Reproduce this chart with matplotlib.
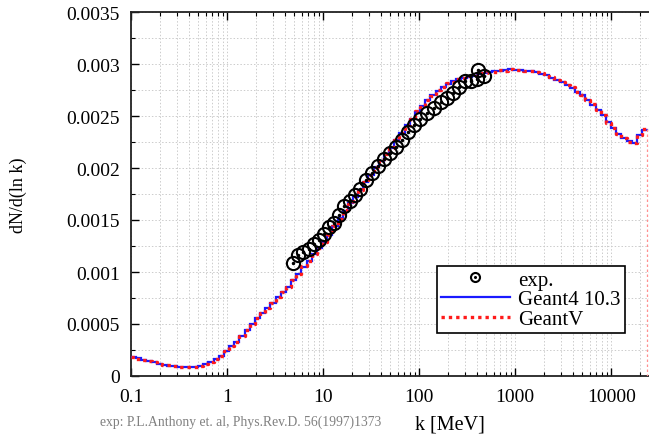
import numpy as np
import matplotlib
matplotlib.use("Agg")
import matplotlib.pyplot as plt
from matplotlib.ticker import LogLocator, MultipleLocator, FixedLocator, NullFormatter
from matplotlib.lines import Line2D

plt.rcParams['font.family'] = ['Liberation Serif', 'DejaVu Serif']

# ---- data ----
k_min_log, k_max_log, n_bins = -1.0, 4.375, 100

geant4 = [
    0.000178, 0.000170, 0.000158, 0.000143, 0.000131, 0.000119, 0.000109, 0.000100, 0.000093, 0.000088,
    0.000086, 0.000085, 0.000090, 0.000098, 0.000112, 0.000132, 0.000160, 0.000195, 0.000240, 0.000285,
    0.000325, 0.000382, 0.000440, 0.000500, 0.000555, 0.000605, 0.000655, 0.000705, 0.000755, 0.000805,
    0.000860, 0.000920, 0.000985, 0.001050, 0.001110, 0.001170, 0.001230, 0.001285, 0.001355, 0.001440,
    0.001515, 0.001590, 0.001660, 0.001725, 0.001790, 0.001865, 0.001935, 0.002005, 0.002070, 0.002130,
    0.002195, 0.002265, 0.002340, 0.002410, 0.002475, 0.002540, 0.002595, 0.002650, 0.002700, 0.002745,
    0.002780, 0.002810, 0.002835, 0.002855, 0.002865, 0.002875, 0.002885, 0.002900, 0.002915, 0.002920,
    0.002930, 0.002935, 0.002940, 0.002950, 0.002945, 0.002940, 0.002935, 0.002930, 0.002925, 0.002905,
    0.002890, 0.002870, 0.002850, 0.002825, 0.002800, 0.002770, 0.002735, 0.002700, 0.002655, 0.002610,
    0.002560, 0.002505, 0.002440, 0.002380, 0.002330, 0.002285, 0.002255, 0.002240, 0.002320, 0.002370,
]

geantv = [
    0.000180, 0.000168, 0.000157, 0.000145, 0.000130, 0.000120, 0.000108, 0.000101, 0.000092, 0.000089,
    0.000085, 0.000086, 0.000089, 0.000099, 0.000113, 0.000131, 0.000162, 0.000197, 0.000238, 0.000287,
    0.000328, 0.000380, 0.000443, 0.000498, 0.000558, 0.000603, 0.000658, 0.000702, 0.000758, 0.000808,
    0.000857, 0.000923, 0.000982, 0.001054, 0.001107, 0.001174, 0.001227, 0.001290, 0.001351, 0.001445,
    0.001512, 0.001595, 0.001656, 0.001730, 0.001787, 0.001870, 0.001931, 0.002010, 0.002066, 0.002135,
    0.002191, 0.002270, 0.002336, 0.002415, 0.002471, 0.002545, 0.002591, 0.002655, 0.002696, 0.002750,
    0.002776, 0.002815, 0.002831, 0.002860, 0.002861, 0.002880, 0.002881, 0.002905, 0.002911, 0.002925,
    0.002926, 0.002940, 0.002936, 0.002955, 0.002941, 0.002945, 0.002931, 0.002935, 0.002921, 0.002910,
    0.002886, 0.002875, 0.002846, 0.002830, 0.002796, 0.002775, 0.002731, 0.002705, 0.002651, 0.002615,
    0.002556, 0.002510, 0.002436, 0.002385, 0.002326, 0.002290, 0.002251, 0.002245, 0.002316, 0.002375,
]

exp_k = [4.87, 5.5, 6.2, 7.1, 8.1, 9.1, 10.2, 11.5, 13.0, 14.7, 16.6, 19.1, 21.5, 24.3, 28.0,
         32.4, 37.4, 43.2, 49.9, 57.5, 66.5, 76.7, 88.7, 102, 121, 143, 169, 195, 226, 261,
         301, 347, 402, 412, 475]
exp_v = [0.00109, 0.00116, 0.00119, 0.00122, 0.00127, 0.00131, 0.00137, 0.00143, 0.00147, 0.00155,
         0.00163, 0.00168, 0.00174, 0.00180, 0.00188, 0.00195, 0.00202, 0.00209, 0.00214, 0.00220,
         0.00227, 0.00235, 0.00241, 0.00247, 0.00253, 0.00258, 0.00263, 0.00267, 0.00272, 0.00278,
         0.00284, 0.00284, 0.00286, 0.00294, 0.00288]

x_ticks = [0.1, 1, 10, 100, 1000, 10000]
x_tick_labels = ['0.1', '1', '10', '100', '1000', '10000']
y_ticks = [0, 0.0005, 0.001, 0.0015, 0.002, 0.0025, 0.003, 0.0035]
y_tick_labels = ['0', '0.0005', '0.001', '0.0015', '0.002', '0.0025', '0.003', '0.0035']

# ---- figure ----
fig = plt.figure(figsize=(6.49, 4.35), dpi=100)
ax = fig.add_axes([131/649, 58/435, 518.5/649, 364/435])

edges = np.logspace(k_min_log, k_max_log, n_bins + 1)

# Geant4 step line
g4x = np.repeat(edges, 2)[1:-1]
g4y = np.repeat(geant4, 2)
ax.plot(g4x, g4y, color='#1a1aff', lw=1.6, solid_joinstyle='miter', zorder=3)

# GeantV step line
gvx = np.repeat(edges, 2)[1:-1]
gvy = np.repeat(geantv, 2)
ax.plot(gvx, gvy, color='#ff1a1a', lw=2.4, ls=(0, (1, 1.2)), zorder=4)
# GeantV last-bin drop to zero (faint)
ax.plot([edges[-1], edges[-1]], [geantv[-1], 0], color='#ff9090', lw=0.9,
        ls=(0, (2, 2)), zorder=4)

# experimental points
ax.plot(exp_k, exp_v, ls='none', marker='o', ms=9.5, mfc='none', mec='black', mew=1.5, zorder=5)
ax.plot(exp_k, exp_v, ls='none', marker='o', ms=1.5, mfc='black', mec='black', zorder=5)

ax.set_xscale('log')
ax.set_xlim(0.1, 10 ** 4.398)
ax.set_ylim(0, 0.0035)

ax.xaxis.set_major_locator(FixedLocator(x_ticks))
ax.set_xticklabels(x_tick_labels)
ax.xaxis.set_minor_locator(LogLocator(base=10, subs=np.arange(2, 10), numticks=20))
ax.xaxis.set_minor_formatter(NullFormatter())
ax.yaxis.set_major_locator(FixedLocator(y_ticks))
ax.set_yticklabels(y_tick_labels)
ax.yaxis.set_minor_locator(MultipleLocator(0.00025))

ax.grid(True, which='both', color='#cccccc', ls=(0, (1.5, 2)), lw=0.7)
ax.set_axisbelow(True)

ax.tick_params(which='major', direction='in', length=6, width=1.0, top=True, right=False,
               labelsize=14, pad=8, colors='black')
ax.tick_params(which='minor', direction='in', length=3, width=0.8, top=True, right=False)
ax.tick_params(axis='x', which='major', pad=9)

for s in ['left', 'bottom', 'top']:
    ax.spines[s].set_linewidth(1.3)
    ax.spines[s].set_color('#222222')
ax.spines['right'].set_visible(False)

ax.set_ylabel('dN/d(ln k)', fontsize=13, labelpad=28)
fig.text(450/649, 1 - 425/435, 'k [MeV]', fontsize=14.5, ha='center', va='center')
fig.text(100/649, 1 - 422/435, 'exp: P.L.Anthony et. al, Phys.Rev.D. 56(1997)1373',
         fontsize=9.8, color='#808080', ha='left', va='center')

# legend
h_exp = (Line2D([], [], ls='none', marker='o', ms=6.5, mfc='none', mec='black', mew=1.5),
         Line2D([], [], ls='none', marker='o', ms=1.2, mfc='black', mec='black'))
h_g4 = Line2D([], [], color='#1a1aff', lw=1.6)
h_gv = Line2D([], [], color='#ff1a1a', lw=2.4, ls=(0, (1, 1.2)))
leg = ax.legend([h_exp, h_g4, h_gv], ['exp.', 'Geant4 10.3', 'GeantV'],
                loc='lower left', bbox_to_anchor=(0.59, 0.118), fontsize=15,
                frameon=True, fancybox=False, edgecolor='black', framealpha=1,
                handlelength=3.3, handletextpad=0.4, borderpad=0.2, labelspacing=0.0,
                borderaxespad=0)
leg.get_frame().set_linewidth(1.2)

fig.savefig('out.png', dpi=100)
